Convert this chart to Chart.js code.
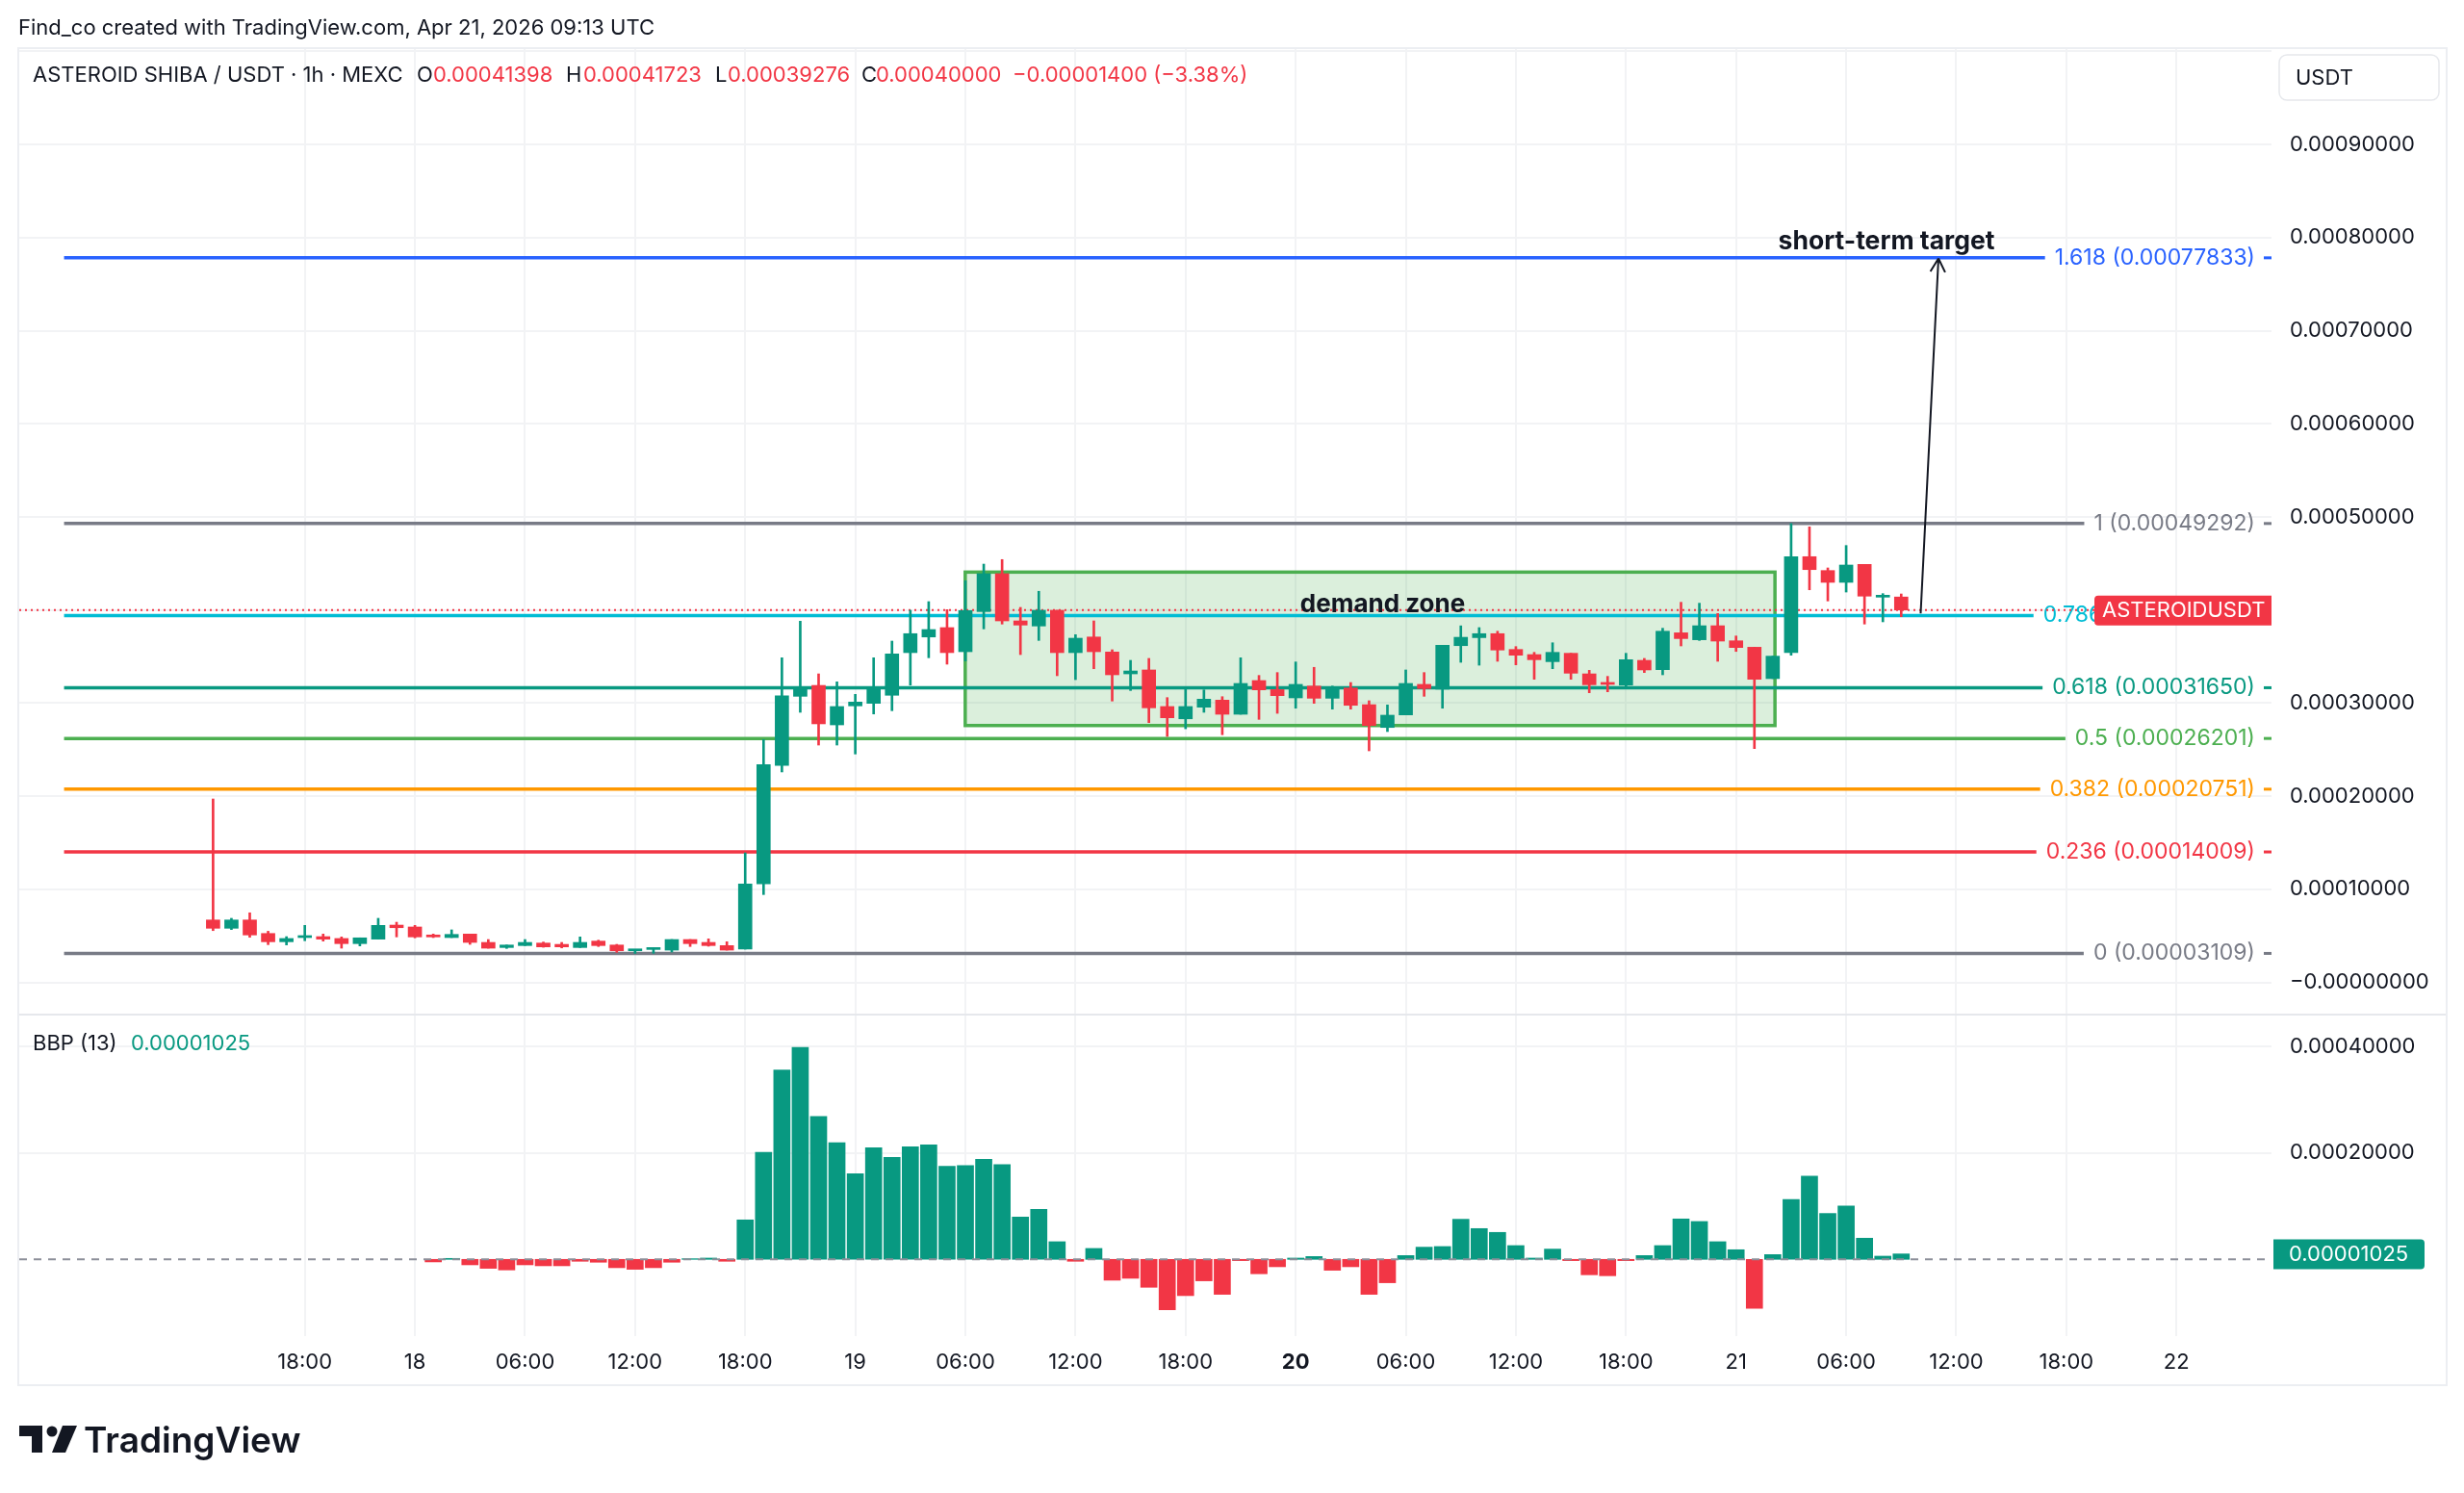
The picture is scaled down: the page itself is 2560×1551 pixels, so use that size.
<!DOCTYPE html>
<html>
<head>
<meta charset="utf-8">
<title>ASTEROID SHIBA / USDT · 1h · MEXC</title>
<script src="https://cdn.jsdelivr.net/npm/chart.js@4.4.1/dist/chart.umd.min.js"></script>
<style>
  html, body { margin: 0; padding: 0; background: #ffffff; }
  body { width: 2560px; height: 1551px; position: relative; overflow: hidden; }
  canvas { position: absolute; left: 0; }
  #priceCanvas { top: 0; }
  #bbpCanvas { top: 1053px; }
  #frame { position: absolute; left: 18px; top: 49px; width: 2525px; height: 1391px;
           border: 2px solid #eceef2; box-sizing: border-box; pointer-events: none; }
</style>
</head>
<body>
<canvas id="priceCanvas" width="2560" height="1053"></canvas>
<canvas id="bbpCanvas" width="2560" height="498"></canvas>
<div id="frame"></div>
<script>
(function () {
    // All prices below are in units of 0.00001 USDT
    const UNIT = 1e-5;

    // Hourly candles, first bar = Apr 17 13:00 UTC (hours counted from Apr 17 00:00)
    const firstCandleHour = 13;
    const opens = [6.70, 5.81, 6.70, 5.25, 4.36, 4.81, 4.91, 4.71, 4.16, 4.64, 6.15, 5.95,
        5.09, 4.81, 5.19, 4.29, 3.74, 3.95, 4.22, 4.08, 3.74, 4.43, 4.01, 3.39,
        3.53, 3.46, 4.60, 4.29, 3.95, 3.57, 10.57, 23.29, 30.73, 31.90, 27.66, 29.70,
        29.97, 30.84, 35.42, 37.10, 38.11, 35.52, 39.83, 43.90, 38.83, 38.28, 39.97, 35.42,
        37.10, 35.49, 33.14, 33.56, 29.63, 28.31, 29.56, 30.32, 28.80, 32.42, 31.45, 30.56,
        31.83, 30.52, 31.62, 29.83, 27.38, 28.73, 32.01, 31.49, 36.17, 37.03, 37.46, 35.76,
        35.21, 34.45, 35.35, 33.14, 32.11, 31.93, 34.59, 33.59, 37.55, 36.80, 38.31, 36.69,
        36.00, 32.63, 35.42, 45.73, 44.24, 42.97, 44.90, 41.38, 41.398];
    const highs = [19.70, 6.88, 7.47, 5.49, 4.91, 6.12, 5.19, 4.88, 4.78, 6.88, 6.46, 6.12,
        5.19, 5.64, 5.19, 4.60, 4.01, 4.60, 4.33, 4.29, 4.88, 4.53, 4.08, 3.53,
        3.67, 4.60, 4.60, 4.67, 4.36, 13.91, 26.08, 34.87, 38.80, 33.14, 32.28, 30.94,
        34.87, 36.66, 39.97, 40.90, 40.04, 43.14, 44.93, 45.42, 40.28, 42.01, 39.97, 37.35,
        38.83, 35.73, 34.59, 34.80, 30.59, 31.59, 31.42, 30.69, 34.87, 32.97, 33.28, 34.42,
        33.84, 31.83, 32.21, 30.25, 29.80, 33.56, 33.28, 36.21, 38.30, 38.11, 37.72, 36.07,
        35.45, 36.48, 35.35, 33.52, 32.87, 35.35, 34.80, 38.04, 40.83, 40.73, 39.63, 37.21,
        36.00, 35.04, 49.292, 48.93, 44.52, 46.93, 44.90, 41.76, 41.723];
    const lows = [5.56, 5.67, 4.84, 4.05, 4.02, 4.47, 4.43, 3.67, 3.91, 4.64, 4.88, 4.78,
        4.81, 4.81, 4.08, 3.67, 3.64, 3.95, 3.77, 3.70, 3.74, 3.85, 3.23, 3.109,
        3.12, 3.26, 3.85, 3.88, 3.46, 3.57, 9.43, 22.60, 29.01, 25.49, 25.49, 24.53,
        28.83, 29.18, 31.93, 34.87, 34.18, 34.52, 37.97, 38.49, 35.21, 36.73, 32.94, 32.52,
        33.69, 30.22, 31.35, 27.90, 26.42, 27.24, 29.01, 26.60, 28.80, 28.25, 28.90, 29.45,
        29.97, 29.35, 29.35, 24.87, 26.94, 28.73, 30.73, 29.45, 34.38, 34.07, 34.49, 34.11,
        32.56, 33.69, 32.56, 31.11, 31.21, 31.83, 33.28, 33.04, 36.14, 36.73, 34.49, 35.55,
        25.11, 32.63, 35.14, 42.17, 40.97, 41.93, 38.49, 38.73, 39.276];
    const closes = [5.81, 6.70, 5.09, 4.36, 4.71, 5.02, 4.64, 4.16, 4.78, 6.12, 5.87, 4.88,
        4.88, 5.15, 4.29, 3.67, 4.01, 4.29, 3.81, 3.81, 4.29, 3.95, 3.39, 3.53,
        3.67, 4.60, 4.16, 3.95, 3.46, 10.57, 23.39, 30.77, 31.66, 27.77, 29.63, 30.11,
        31.66, 35.28, 37.46, 37.90, 35.42, 39.94, 43.90, 38.83, 38.38, 39.97, 35.42, 36.97,
        35.52, 33.04, 33.45, 29.49, 28.42, 29.63, 30.42, 28.80, 32.11, 31.42, 30.80, 32.01,
        30.52, 31.62, 29.76, 27.59, 28.70, 32.11, 31.56, 36.21, 37.07, 37.46, 35.70, 35.14,
        34.66, 35.45, 33.21, 31.97, 32.01, 34.66, 33.56, 37.72, 36.93, 38.31, 36.66, 35.97,
        32.56, 35.04, 45.73, 44.34, 42.97, 44.83, 41.49, 41.45, 40.000];

    // BBP (13) histogram, first bar = Apr 18 01:00 UTC
    const bbpFirstHour = 25;
    const bbpValues = [-0.48, 0.18, -1.03, -1.69, -1.99, -1.03, -1.21, -1.21, -0.36, -0.54,
        -1.57, -1.87, -1.57, -0.54, 0.12, 0.24, -0.36, 7.42, 20.15, 35.60,
        39.88, 26.85, 21.96, 16.11, 21.00, 19.19, 21.18, 21.54, 17.50, 17.62,
        18.82, 17.80, 7.96, 9.41, 3.32, -0.36, 2.05, -3.92, -3.56, -5.25,
        -9.47, -6.82, -4.04, -6.58, -0.24, -2.71, -1.39, 0.24, 0.54, -2.05,
        -1.39, -6.58, -4.40, 0.72, 2.29, 2.41, 7.54, 5.79, 5.07, 2.59,
        0.24, 1.93, -0.24, -2.90, -3.08, -0.24, 0.72, 2.59, 7.60, 7.12,
        3.32, 1.81, -9.23, 0.90, 11.28, 15.63, 8.63, 10.02, 3.98, 0.60, 1.025];

    // Axis ticks
    const timeTickHours = [18, 24, 30, 36, 42, 48, 54, 60, 66, 72, 78, 84, 90, 96, 102, 108, 114, 120];
    const timeTickLabels = ['18:00', '18', '06:00', '12:00', '18:00', '19', '06:00', '12:00', '18:00',
        '20', '06:00', '12:00', '18:00', '21', '06:00', '12:00', '18:00', '22'];
    const boldTickHours = [72];
    const priceTicks = [0, 10, 20, 30, 40, 50, 60, 70, 80, 90, 100];
    const bbpTicks = [20, 40];

    // Fibonacci retracement
    const fibLevels = ['1.618', '1', '0.786', '0.618', '0.5', '0.382', '0.236', '0'];
    const fibPrices = [77.833, 49.292, 39.409, 31.650, 26.201, 20.751, 14.009, 3.109];
    const fibColors = ['#2962ff', '#787b86', '#00bcd4', '#089981', '#4caf50', '#ff9800', '#f23645', '#787b86'];

    // Drawing positions (hours / price units)
    const X_MIN = 2.437, X_MAX = 125.18;
    const fibStartHour = 4.88;
    const zone = { x1: 53.99, x2: 98.12, top: 44.07, bottom: 27.59 };
    const zoneLabel = { x: 76.74, y: 40.59 };
    const arrow = { x1: 106.06, y1: 39.63, x2: 107.03, y2: 77.77 };
    const targetLabel = { x: 104.2, y: 79.58 };
    const lastPrice = 40.0;

    const FONT = 'Inter, "Noto Sans", sans-serif';
    const GREEN = '#089981';
    const RED = '#f23645';
    const TEXT = '#131722';
    const GRID = '#f2f3f5';

    const candleColors = opens.map((o, i) => closes[i] >= o ? GREEN : RED);
    const bodyData = opens.map((o, i) => ({ x: firstCandleHour + i, y: [o, closes[i]] }));
    const wickData = lows.map((l, i) => ({ x: firstCandleHour + i, y: [l, highs[i]] }));
    const bbpData = bbpValues.map((v, i) => ({ x: bbpFirstHour + i, y: v }));
    const bbpColors = bbpValues.map(v => v >= 0 ? GREEN : RED);

    function fmt(v) {
        return (v * UNIT).toFixed(8);
    }

    function drawText(ctx, str, x, y, font, color, align) {
        ctx.font = font;
        ctx.fillStyle = color;
        ctx.textAlign = align || 'left';
        ctx.textBaseline = 'middle';
        ctx.fillText(str, x, y);
    }

    function roundRect(ctx, x, y, w, h, r) {
        ctx.beginPath();
        ctx.roundRect(x, y, w, h, r);
    }

    // Price pane drawings: zone, fib levels, arrow, labels
    const pricePanePlugin = {
        id: 'pricePane',
        beforeDatasetsDraw(chart) {
            const { ctx, chartArea, scales: { x, y } } = chart;
            ctx.save();

            // demand zone
            const zx1 = x.getPixelForValue(zone.x1), zx2 = x.getPixelForValue(zone.x2);
            const zy1 = y.getPixelForValue(zone.top), zy2 = y.getPixelForValue(zone.bottom);
            ctx.fillStyle = 'rgba(76, 175, 80, 0.2)';
            ctx.fillRect(zx1, zy1, zx2 - zx1, zy2 - zy1);
            ctx.strokeStyle = '#4caf50';
            ctx.lineWidth = 3.5;
            ctx.strokeRect(zx1, zy1, zx2 - zx1, zy2 - zy1);

            // fib lines with labels on the right
            const labelFont = '23px ' + FONT;
            const labelRight = chartArea.right - 17;
            const fx = x.getPixelForValue(fibStartHour);
            fibPrices.forEach((p, i) => {
                const py = y.getPixelForValue(p);
                const label = fibLevels[i] + ' (' + fmt(p) + ')';
                ctx.font = labelFont;
                const w = ctx.measureText(label).width;
                ctx.strokeStyle = fibColors[i];
                ctx.lineWidth = 3.5;
                ctx.beginPath();
                ctx.moveTo(fx, py);
                ctx.lineTo(labelRight - w - 10, py);
                ctx.stroke();
                drawText(ctx, label, labelRight, py, labelFont, fibColors[i], 'right');
                ctx.fillStyle = fibColors[i];
                ctx.fillRect(chartArea.right - 8, py - 1.5, 8, 3);
            });

            // last price dotted line
            const lp = y.getPixelForValue(lastPrice);
            ctx.strokeStyle = RED;
            ctx.lineWidth = 2;
            ctx.setLineDash([2, 4]);
            ctx.beginPath();
            ctx.moveTo(chartArea.left, lp);
            ctx.lineTo(chartArea.right, lp);
            ctx.stroke();
            ctx.setLineDash([]);
            ctx.restore();
        },
        afterDatasetsDraw(chart) {
            const { ctx, scales: { x, y } } = chart;
            ctx.save();

            // arrow to the short-term target
            const ax1 = x.getPixelForValue(arrow.x1), ay1 = y.getPixelForValue(arrow.y1);
            const ax2 = x.getPixelForValue(arrow.x2), ay2 = y.getPixelForValue(arrow.y2);
            ctx.strokeStyle = '#131722';
            ctx.lineWidth = 2;
            ctx.beginPath();
            ctx.moveTo(ax1, ay1);
            ctx.lineTo(ax2, ay2);
            const ang = Math.atan2(ay2 - ay1, ax2 - ax1);
            [0.5, -0.5].forEach(d => {
                ctx.moveTo(ax2, ay2);
                ctx.lineTo(ax2 - 16 * Math.cos(ang + d), ay2 - 16 * Math.sin(ang + d));
            });
            ctx.stroke();

            drawText(ctx, 'demand zone', x.getPixelForValue(zoneLabel.x), y.getPixelForValue(zoneLabel.y),
                'bold 26px ' + FONT, TEXT, 'center');
            drawText(ctx, 'short-term target', x.getPixelForValue(targetLabel.x), y.getPixelForValue(targetLabel.y),
                'bold 26.5px ' + FONT, TEXT, 'center');
            ctx.restore();
        },
        afterDraw(chart) {
            const { ctx, chartArea, scales: { y } } = chart;
            ctx.save();

            // header and legend
            drawText(ctx, 'Find_co created with TradingView.com, Apr 21, 2026 09:13 UTC', 19, 29, '22px ' + FONT, TEXT);
            const lf = '22px ' + FONT;
            drawText(ctx, 'ASTEROID SHIBA / USDT · 1h · MEXC', 34, 78, lf, TEXT);
            drawText(ctx, 'O', 433, 78, lf, TEXT);
            drawText(ctx, '0.00041398', 450, 78, lf, RED);
            drawText(ctx, 'H', 588, 78, lf, TEXT);
            drawText(ctx, '0.00041723', 606, 78, lf, RED);
            drawText(ctx, 'L', 743, 78, lf, TEXT);
            drawText(ctx, '0.00039276', 756, 78, lf, RED);
            drawText(ctx, 'C', 895, 78, lf, TEXT);
            drawText(ctx, '0.00040000', 910, 78, lf, RED);
            drawText(ctx, '\u22120.00001400 (\u22123.38%)', 1052, 78, lf, RED);

            // currency box
            ctx.fillStyle = '#ffffff';
            ctx.strokeStyle = '#e6e8ec';
            ctx.lineWidth = 1.5;
            roundRect(ctx, 2368, 57, 166, 47, 8);
            ctx.fill();
            ctx.stroke();
            drawText(ctx, 'USDT', 2385, 81, '22px ' + FONT, TEXT);

            // last price labels
            const lp = y.getPixelForValue(lastPrice);
            ctx.fillStyle = RED;
            roundRect(ctx, 2176, lp - 15, 184, 31, [4, 0, 0, 4]);
            ctx.fill();
            drawText(ctx, 'ASTEROIDUSDT', 2184, lp + 1, '22px ' + FONT, '#ffffff');
            roundRect(ctx, chartArea.right + 2, lp - 15, 157, 56, [0, 4, 4, 0]);
            ctx.fill();
            drawText(ctx, fmt(lastPrice), 2378, lp, '22px ' + FONT, '#ffffff');
            drawText(ctx, '46:12', 2378, lp + 26, '22px ' + FONT, '#ffffff');
            ctx.restore();
        }
    };

    // Oscillator pane drawings
    const bbpPanePlugin = {
        id: 'bbpPane',
        afterDatasetsDraw(chart) {
            const { ctx, chartArea, scales: { y } } = chart;
            const zy = y.getPixelForValue(0);
            ctx.save();
            ctx.strokeStyle = '#8c8f99';
            ctx.lineWidth = 2;
            ctx.setLineDash([8, 7]);
            ctx.beginPath();
            ctx.moveTo(chartArea.left, zy);
            ctx.lineTo(chartArea.right, zy);
            ctx.stroke();
            ctx.restore();
        },
        afterDraw(chart) {
            const { ctx, chartArea, scales: { y } } = chart;
            const last = bbpValues[bbpValues.length - 1];
            ctx.save();

            // pane separator
            ctx.fillStyle = '#e6e8ec';
            ctx.fillRect(19, 0, 2522, 2);

            drawText(ctx, 'BBP (13)', 34, 31, '22px ' + FONT, TEXT);
            drawText(ctx, fmt(last), 136, 31, '22px ' + FONT, GREEN);

            const vy = y.getPixelForValue(last);
            ctx.fillStyle = GREEN;
            roundRect(ctx, chartArea.right + 2, vy - 15, 157, 31, [0, 4, 4, 0]);
            ctx.fill();
            drawText(ctx, fmt(last), 2378, vy + 1, '22px ' + FONT, '#ffffff');

            // TradingView logo
            const oy = -1053;
            ctx.fillStyle = '#131722';
            ctx.fillRect(20, 1481 + oy, 24, 11);
            ctx.fillRect(33, 1481 + oy, 11, 28);
            ctx.beginPath();
            ctx.arc(54, 1487 + oy, 5.5, 0, Math.PI * 2);
            ctx.fill();
            ctx.beginPath();
            ctx.moveTo(65, 1481 + oy);
            ctx.lineTo(80, 1481 + oy);
            ctx.lineTo(68, 1509 + oy);
            ctx.lineTo(54, 1509 + oy);
            ctx.closePath();
            ctx.fill();
            ctx.font = '600 37px ' + FONT;
            ctx.textAlign = 'left';
            ctx.textBaseline = 'alphabetic';
            ctx.fillText('TradingView', 87, 1509 + oy);
            ctx.restore();
        }
    };

    const timeAxis = (showLabels) => ({
        type: 'linear',
        min: X_MIN,
        max: X_MAX,
        offset: false,
        grid: { color: GRID, lineWidth: 2, drawTicks: false, offset: false },
        border: { display: false },
        afterBuildTicks: (scale) => {
            scale.ticks = timeTickHours.map(v => ({ value: v }));
        },
        ticks: {
            display: showLabels,
            autoSkip: false,
            maxRotation: 0,
            padding: 14,
            color: TEXT,
            font: (c) => ({
                family: FONT,
                size: 22,
                weight: c.tick && boldTickHours.includes(c.tick.value) ? 'bold' : 'normal'
            }),
            callback: (value) => timeTickLabels[timeTickHours.indexOf(value)]
        },
        afterFit: (scale) => {
            scale.height = showLabels ? 51 : 0;
            scale.paddingLeft = 0;
            scale.paddingRight = 0;
        }
    });

    const priceAxisFit = (scale) => {
        scale.width = 181;
        scale.paddingTop = 0;
        scale.paddingBottom = 0;
    };

    new Chart(document.getElementById('priceCanvas'), {
        type: 'bar',
        data: {
            datasets: [{
                label: 'Body',
                data: bodyData,
                backgroundColor: candleColors,
                barThickness: 14,
                minBarLength: 2,
                grouped: false,
                order: 0
            }, {
                label: 'Wick',
                data: wickData,
                backgroundColor: candleColors,
                barThickness: 2,
                grouped: false,
                order: 1
            }]
        },
        options: {
            responsive: false,
            animation: false,
            events: [],
            layout: { padding: { left: 20, right: 19, top: 50, bottom: 0 } },
            plugins: { legend: { display: false }, tooltip: { enabled: false } },
            scales: {
                x: timeAxis(false),
                y: {
                    position: 'right',
                    min: -3.36,
                    max: 100.36,
                    grid: { color: GRID, lineWidth: 2, drawTicks: false },
                    border: { display: false },
                    afterBuildTicks: (scale) => {
                        scale.ticks = priceTicks.map(v => ({ value: v }));
                    },
                    ticks: {
                        padding: 19,
                        color: TEXT,
                        font: { family: FONT, size: 22 },
                        callback: (v) => v === 0 ? '\u22120.00000000' : (v >= 100 ? '' : fmt(v))
                    },
                    afterFit: priceAxisFit
                }
            }
        },
        plugins: [pricePanePlugin]
    });

    new Chart(document.getElementById('bbpCanvas'), {
        type: 'bar',
        data: {
            datasets: [{
                label: 'BBP (13)',
                data: bbpData,
                backgroundColor: bbpColors,
                barThickness: 17,
                grouped: false
            }]
        },
        options: {
            responsive: false,
            animation: false,
            events: [],
            layout: { padding: { left: 20, right: 19, top: 0, bottom: 112 } },
            plugins: { legend: { display: false }, tooltip: { enabled: false } },
            scales: {
                x: timeAxis(true),
                y: {
                    position: 'right',
                    min: -14.43,
                    max: 46.21,
                    grid: { color: GRID, lineWidth: 2, drawTicks: false },
                    border: { display: false },
                    afterBuildTicks: (scale) => {
                        scale.ticks = bbpTicks.map(v => ({ value: v }));
                    },
                    ticks: {
                        padding: 19,
                        color: TEXT,
                        font: { family: FONT, size: 22 },
                        callback: (v) => fmt(v)
                    },
                    afterFit: priceAxisFit
                }
            }
        },
        plugins: [bbpPanePlugin]
    });
})();
</script>
</body>
</html>
